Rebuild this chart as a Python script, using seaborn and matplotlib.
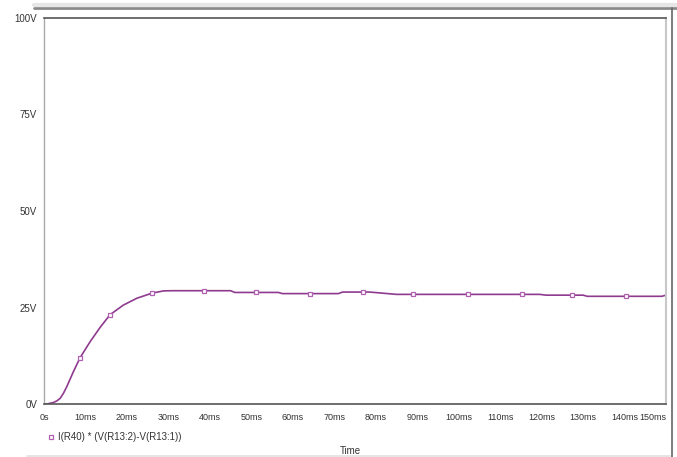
import numpy as np
import pandas as pd
import matplotlib
matplotlib.use("Agg")
import matplotlib.pyplot as plt
from matplotlib.lines import Line2D
import seaborn as sns

# Transient response of I(R40) * (V(R13:2)-V(R13:1)), time in ms, value in V
time_ms = [0, 0.65, 2.2, 3.1, 3.9, 4.7, 5.5, 7.1, 8.7, 11.1, 13.5, 15.9, 19.1, 22.4, 26, 28.8,
           31, 38.6, 45, 46, 51.1, 56.5, 57.5, 64.1, 71, 72, 76.9, 78.6, 85, 89.0,
           102.2, 115.3, 119.6, 121, 127.3, 130, 131, 140.3, 149, 150]
volts = [0, 0.0, 0.35, 0.8, 1.47, 2.8, 4.5, 8.4, 12.0, 16.1, 19.8, 23.1, 25.6, 27.4, 28.7, 29.3,
         29.35, 29.35, 29.35, 28.9, 28.9, 28.9, 28.6, 28.6, 28.6, 29.0, 29.0, 29.0, 28.4, 28.4,
         28.4, 28.4, 28.4, 28.2, 28.2, 28.2, 27.9, 27.9, 27.9, 28.2]
marker_times = [8.7, 15.9, 26, 38.6, 51.1, 64.1, 76.9, 89.0, 102.2, 115.3, 127.3, 140.3]

x_ticks = list(range(0, 151, 10))
x_labels = ["0s"] + [f"{v}ms" for v in x_ticks[1:]]
y_ticks = [0, 25, 50, 75, 100]
y_labels = [f"{v}V" for v in y_ticks]
trace_name = "I(R40) * (V(R13:2)-V(R13:1))"

df = pd.DataFrame({"t": time_ms, "v": volts})
mark_idx = [i for i, t in enumerate(time_ms) if t in marker_times]

sns.set_style("white")
plt.rcParams["font.family"] = ["Liberation Sans", "DejaVu Sans"]

fig = plt.figure(figsize=(6.77, 4.57), dpi=100)
ax = fig.add_axes([44 / 677, 1 - 404 / 457, (666 - 44) / 677, (404 - 18) / 457])

line_color = "#8e3a8e"
sns.lineplot(data=df, x="t", y="v", ax=ax, color=line_color, lw=1.2,
             estimator=None, sort=False, marker="s", markersize=3.5,
             markerfacecolor="white", markeredgecolor="#b060b0",
             markeredgewidth=0.9, markevery=mark_idx)

ax.set_xlim(0, 150)
ax.set_ylim(0, 100)
ax.set_xticks(x_ticks)
ax.set_xticklabels(x_labels)
ax.set_yticks(y_ticks)
ax.set_yticklabels(y_labels)
ax.tick_params(axis="x", direction="inout", length=7, width=0.8, color="#9a9a9a",
               labelsize=6.5, labelcolor="#333333", pad=3)
ax.tick_params(axis="y", direction="out", length=4, width=0.8, color="#555555",
               labelsize=7, labelcolor="#333333", pad=1)
last = ax.get_xticklabels()[-1]
last.set_horizontalalignment("right")
ax.set_xlabel("Time", fontsize=7, color="#333333")
ax.xaxis.set_label_coords(0.492, -0.11)
ax.set_ylabel("")

for side, col, w in [("top", "#555555", 1.2), ("bottom", "#555555", 1.2),
                     ("left", "#aaaaaa", 1.0), ("right", "#c8c8c8", 1.5)]:
    ax.spines[side].set_visible(True)
    ax.spines[side].set_color(col)
    ax.spines[side].set_linewidth(w)

# window frame around the plot area
fig.add_artist(Line2D([0.05, 1.0], [1 - 8 / 457, 1 - 8 / 457], transform=fig.transFigure,
                      color="#8a8a8a", lw=2.0))
fig.add_artist(Line2D([0.05, 1.0], [1 - 5 / 457, 1 - 5 / 457], transform=fig.transFigure,
                      color="#e6e6e6", lw=3.0))
fig.add_artist(Line2D([672 / 677, 672 / 677], [0.0, 1 - 8 / 457], transform=fig.transFigure,
                      color="#666666", lw=1.2))
fig.add_artist(Line2D([0.04, 0.99], [1 - 456 / 457, 1 - 456 / 457], transform=fig.transFigure,
                      color="#e0e0e0", lw=1.2, zorder=0))

handle = Line2D([], [], ls="none", marker="s", markersize=3.5, markerfacecolor="white",
                markeredgecolor="#b060b0", markeredgewidth=0.9)
fig.legend([handle], [trace_name], loc="center left",
           bbox_to_anchor=(43 / 677, 1 - 437 / 457), frameon=False, fontsize=7,
           handlelength=0.6, handletextpad=0.4, labelcolor="#333333", borderpad=0)

fig.savefig("out.png", dpi=100, facecolor="white")
